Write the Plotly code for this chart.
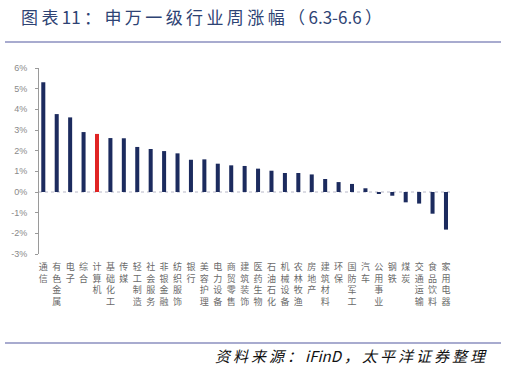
import plotly.graph_objects as go

categories = ["通信", "有色金属", "电子", "综合", "计算机", "基础化工", "传媒", "轻工制造",
              "社会服务", "非银金融", "纺织服饰", "银行", "美容护理", "电力设备", "商贸零售",
              "建筑装饰", "医药生物", "石油石化", "机械设备", "农林牧渔", "房地产", "建筑材料",
              "环保", "国防军工", "汽车", "公用事业", "钢铁", "煤炭", "交通运输", "食品饮料",
              "家用电器"]
weekly_change = [5.31, 3.77, 3.61, 2.90, 2.81, 2.61, 2.60, 2.18, 2.08, 1.98, 1.87, 1.56,
                 1.58, 1.37, 1.29, 1.26, 1.13, 1.03, 0.92, 0.92, 0.85, 0.63, 0.48, 0.39,
                 0.18, -0.08, -0.18, -0.50, -0.56, -1.05, -1.82]
highlight = "计算机"
y_ticks = [-3, -2, -1, 0, 1, 2, 3, 4, 5, 6]
y_tick_labels = [f"{v}%" for v in y_ticks]

title_text = "图表11：申万一级行业周涨幅（6.3-6.6）"
source_text = "资料来源：iFinD，太平洋证券整理"

W, H = 507, 370
L, R, T, B = 39, 57, 68, 116


def spaced(s):
    # add thin spaces between wide characters to mimic the letter spacing
    out = ""
    for i, ch in enumerate(s):
        out += ch
        if i < len(s) - 1 and (ord(ch) > 0x2E80 or ord(s[i + 1]) > 0x2E80):
            out += "\u2009"
    return out


bar_colors = ["#E02424" if c == highlight else "#1C2B5E" for c in categories]
tick_text = ["<br>".join(list(c)) for c in categories]

fig = go.Figure(go.Bar(
    x=categories,
    y=weekly_change,
    marker=dict(color=bar_colors, line=dict(width=0)),
    width=0.3,
))

pw = W - L - R
ph = H - T - B


def px_x(x):
    return (x - L) / pw


def px_y(y):
    return (H - B - y) / ph


fig.update_layout(
    width=W, height=H, autosize=False,
    margin=dict(l=L, r=R, t=T, b=B, pad=0),
    paper_bgcolor="white", plot_bgcolor="white",
    showlegend=False,
    font=dict(family="Noto Sans CJK SC, sans-serif"),
    xaxis=dict(
        type="category",
        range=[-0.32, len(categories) - 1 + 0.3],
        showline=False, showgrid=False, zeroline=False, ticks="",
        tickvals=categories, ticktext=tick_text, tickangle=0,
        tickfont=dict(size=9, color="#6a6a6a", family="Noto Sans CJK SC"),
        ticklabelstandoff=6,
    ),
    yaxis=dict(
        range=[-3, 6],
        tickvals=y_ticks, ticktext=y_tick_labels,
        showline=True, linecolor="#9a9a9a", linewidth=1,
        ticks="outside", ticklen=3, tickcolor="#9a9a9a",
        showgrid=False, zeroline=False,
        tickfont=dict(size=9, color="#8a8a8a", family="Liberation Sans"),
        ticklabelstandoff=6,
    ),
    shapes=[
        dict(type="line", xref="paper", yref="y", x0=0, x1=1, y0=0, y1=0,
             line=dict(color="#b8b8c8", width=1, dash="dot"), layer="below"),
        dict(type="line", xref="paper", yref="paper", x0=px_x(5), x1=px_x(501),
             y0=px_y(42), y1=px_y(42), line=dict(color="#8B8FBF", width=1.5)),
        dict(type="line", xref="paper", yref="paper", x0=px_x(5), x1=px_x(501),
             y0=px_y(343), y1=px_y(343), line=dict(color="#8B8FBF", width=1.5)),
    ],
    annotations=[
        dict(text=spaced(title_text), xref="paper", yref="paper",
             x=px_x(19), y=px_y(16), xanchor="left", yanchor="middle",
             showarrow=False,
             font=dict(size=17, color="#2E4374", family="Noto Sans CJK SC")),
        dict(text=spaced(source_text), xref="paper", yref="paper",
             x=px_x(489), y=px_y(355), xanchor="right", yanchor="middle",
             showarrow=False,
             font=dict(size=15, color="#111111", family="Noto Sans CJK SC",
                       style="italic")),
    ],
)

fig.write_html("out.html")
